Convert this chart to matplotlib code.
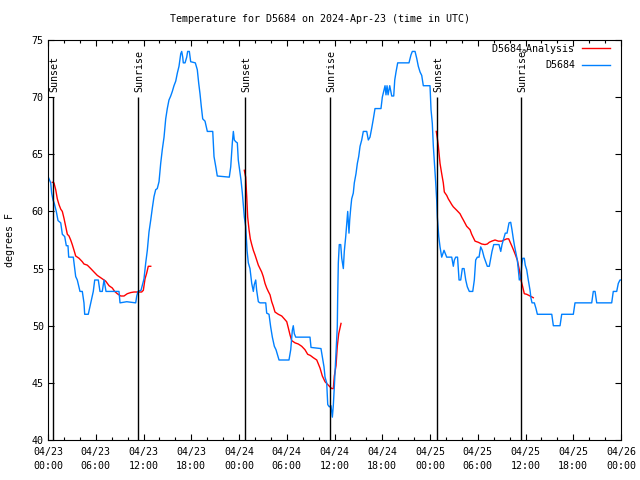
import numpy as np
import matplotlib
matplotlib.use("Agg")
import matplotlib.pyplot as plt
from matplotlib.ticker import MultipleLocator

# hours since 2024-04-23 00:00 UTC
obs_hours = [0.04, 0.34, 0.46, 0.63, 0.79, 1.04, 1.26, 1.60, 1.80, 2.10, 2.30, 2.51, 2.60, 3.18,
             3.48, 3.68, 4.02, 4.31, 4.52, 4.61, 5.06, 5.37, 5.69, 5.87, 6.32, 6.53, 6.82, 7.04,
             7.29, 8.92, 9.05, 9.89, 11.02, 11.15, 11.31, 11.69, 12.06, 12.28, 12.48, 12.69,
             12.91, 13.11, 13.32, 13.53, 13.73, 13.95, 14.16, 14.36, 14.58, 14.79, 14.99, 15.20,
             15.42, 15.62, 15.83, 16.05, 16.25, 16.46, 16.68, 16.80, 16.93, 17.00, 17.22, 17.43,
             17.55, 17.76, 17.93, 18.51, 18.76, 18.94, 19.10, 19.26, 19.44, 19.73, 20.02, 20.70,
             20.86, 21.11, 21.27, 22.78, 22.96, 23.16, 23.29, 23.41, 23.59, 23.79, 23.91, 24.09,
             24.25, 24.42, 24.54, 24.67, 24.84, 25.01, 25.17, 25.38, 25.60, 25.80, 25.92, 26.10,
             26.22, 26.43, 26.64, 27.36, 27.48, 27.77, 27.98, 28.19, 28.44, 28.65, 28.86, 29.03,
             30.28, 30.50, 30.70, 30.82, 30.95, 31.13, 32.92, 33.05, 34.30, 34.47, 34.68, 34.81,
             35.02, 35.15, 35.35, 35.56, 35.73, 35.85, 35.98, 36.28, 36.35, 36.40, 36.48, 36.60,
             36.78, 36.91, 37.11, 37.23, 37.41, 37.57, 37.66, 37.82, 37.91, 38.04, 38.16, 38.36,
             38.49, 38.70, 38.87, 39.04, 39.21, 39.42, 39.62, 40.05, 40.25, 40.46, 40.68, 40.88,
             41.09, 41.84, 42.01, 42.22, 42.35, 42.47, 42.60, 42.73, 42.94, 43.19, 43.44, 43.57,
             43.73, 43.94, 45.36, 45.61, 45.78, 46.12, 46.33, 46.53, 46.75, 46.96, 47.16, 48.00,
             48.13, 48.29, 48.42, 48.59, 48.71, 48.84, 48.92, 49.10, 49.26, 49.47, 49.76, 50.10,
             50.73, 50.93, 51.06, 51.23, 51.46, 51.65, 51.86, 52.06, 52.28, 52.49, 52.69, 52.94,
             53.37, 53.57, 53.74, 53.95, 54.16, 54.37, 54.57, 54.79, 55.00, 55.20, 55.45, 55.63,
             55.79, 56.01, 56.67, 56.89, 57.05, 57.26, 57.46, 57.68, 57.93, 58.14, 58.30, 58.47,
             58.64, 58.81, 58.97, 59.10, 59.22, 59.40, 59.53, 59.65, 59.85, 59.97, 60.15, 60.35,
             60.57, 60.69, 60.82, 61.11, 61.32, 61.49, 63.30, 63.50, 64.34, 64.55, 66.01, 66.22,
             68.32, 68.52, 68.74, 68.95, 70.83, 71.03, 71.46, 71.66, 71.87, 72.0]
obs_temp = [63, 62.5, 61.6, 61, 60.7, 60, 59.2, 59, 58, 57.8, 57, 57, 56, 56,
            54.3, 54, 53, 53, 52, 51, 51, 52, 53, 54, 54, 53, 53, 54,
            53, 53, 52, 52.1, 52, 52.6, 53, 53.1, 54.1, 55.5, 56.6, 58.2,
            59.25, 60.3, 61.3, 61.9, 62, 62.6, 64.2, 65.4, 66.5, 68.1, 69, 69.75,
            70.1, 70.5, 71, 71.4, 72.1, 72.7, 73.8, 74, 73.5, 73, 73, 73.5,
            74, 74, 73.1, 73, 72.4, 71.2, 70.3, 69.2, 68.1, 67.9, 67, 67,
            64.8, 63.8, 63.1, 63, 63.9, 66, 67, 66.25, 66.1, 66, 64.5, 63.6,
            62.75, 61.6, 60.6, 59.5, 58.7, 56.6, 55.5, 55, 53.7, 53, 53.6, 54,
            53.1, 52.1, 52, 52, 51.1, 51, 49.9, 49, 48.2, 47.9, 47.4, 47,
            47, 47.9, 49.6, 50, 49.3, 49, 49, 48.1, 48, 47.3, 46.4, 45.5,
            45, 43.1, 42.9, 43, 42, 43, 44.7, 48.9, 49.9, 52.5, 55.5, 57.1,
            57.1, 55.9, 55, 56.5, 57.8, 59.25, 60, 58.1, 59.25, 60.3, 61.1, 61.6,
            62.5, 63.3, 64.2, 64.8, 65.7, 66.25, 67, 67, 66.25, 66.5, 67.3, 68.1,
            69, 69, 70, 70.6, 71, 70.2, 71, 70.2, 71, 70.1, 70.1, 71.5,
            72.2, 73, 73, 73.7, 74, 74, 73.4, 72.7, 72.2, 71.9, 71, 71,
            68.9, 67.7, 65.7, 63.9, 62.6, 61, 59.5, 57.8, 56.9, 56, 56.6, 56,
            56, 55.2, 55.75, 56, 56, 54, 54, 55, 55, 54, 53.4, 53,
            53, 54, 55.75, 56, 56, 56.9, 56.6, 56, 55.6, 55.2, 55.2, 55.9,
            56.5, 57.1, 57.1, 56.5, 57.1, 57.6, 58.1, 58.1, 59, 59.05, 58.4, 57.6,
            56.9, 56.3, 55.75, 54.9, 54, 54.2, 55.3, 55.9, 55.9, 55.3, 54.9, 54,
            53.1, 52.4, 52, 52, 51.5, 51, 51, 50, 50, 51, 51, 52,
            52, 53, 53, 52, 52, 53, 53, 53.7, 54, 54]

# analysis series: three night-time pieces
ana1_hours = [0.54, 0.75, 0.97, 1.17, 1.38, 1.60, 1.80, 2.01, 2.22, 2.43, 2.64, 2.85, 3.05, 3.27,
              3.48, 3.90, 4.31, 4.52, 4.94, 5.37, 5.78, 6.20, 6.62, 7.04, 7.25, 7.67, 8.08, 8.38,
              8.71, 9.14, 9.55, 9.96, 10.39, 10.81, 11.22, 11.77, 11.98, 12.19, 12.40, 12.60, 12.91]
ana1_temp = [62.55, 62.5, 61.9, 61.1, 60.6, 60.2, 60, 59.4, 58.7, 58, 57.85, 57.5, 57.1, 56.6,
             56.1, 55.9, 55.6, 55.4, 55.3, 55, 54.7, 54.4, 54.2, 54, 53.9, 53.5, 53.3, 53,
             52.8, 52.6, 52.6, 52.8, 52.9, 52.95, 52.95, 52.95, 53.1, 54.1, 54.6, 55.2, 55.2]
ana2_hours = [24.67, 24.84, 24.97, 25.09, 25.26, 25.42, 25.60, 25.80, 26.01, 26.22, 26.43, 26.64,
              26.85, 27.05, 27.27, 27.48, 27.68, 27.90, 28.11, 28.31, 28.52, 28.94, 29.37, 29.69,
              30.00, 30.20, 30.41, 30.62, 31.04, 31.45, 31.88, 32.29, 32.63, 32.96, 33.34, 33.77,
              34.18, 34.47, 34.81, 35.22, 35.65, 35.85, 35.98, 36.19, 36.35, 36.53, 36.82]
ana2_temp = [63.6, 63, 61.3, 59.5, 58.4, 57.6, 57.1, 56.6, 56.2, 55.75, 55.3, 55,
             54.7, 54.3, 53.7, 53.3, 53, 52.7, 52.1, 51.7, 51.2, 51, 50.85, 50.6,
             50.35, 49.8, 49.2, 48.7, 48.5, 48.4, 48.2, 47.9, 47.5, 47.4, 47.2, 47,
             46.3, 45.6, 45.1, 44.8, 44.5, 44.5, 45.6, 46.5, 48.2, 49.3, 50.2]
ana3_hours = [48.79, 48.92, 49.05, 49.26, 49.47, 49.67, 49.80, 50.10, 50.30, 50.52, 50.73, 50.93,
              51.36, 51.77, 51.99, 52.19, 52.61, 53.03, 53.24, 53.66, 54.07, 54.50, 54.91, 55.20,
              55.45, 55.76, 56.17, 56.59, 57.01, 57.30, 57.64, 57.89, 58.14, 58.39, 58.68, 58.97,
              59.22, 59.43, 59.65, 59.85, 60.15, 60.57, 60.98]
ana3_temp = [67, 66.4, 65.7, 64.2, 63.3, 62.5, 61.7, 61.4, 61.1, 60.85, 60.6, 60.4,
             60.1, 59.8, 59.5, 59.25, 58.7, 58.4, 58, 57.4, 57.3, 57.15, 57.1, 57.15,
             57.3, 57.4, 57.5, 57.4, 57.4, 57.5, 57.6, 57.6, 57.2, 56.8, 56.3, 55.75,
             54.9, 54, 53.4, 52.8, 52.75, 52.6, 52.45]

sun_hours = [0.67, 11.35, 24.8, 35.47, 48.9, 59.47]
sun_labels = ["Sunset", "Sunrise", "Sunset", "Sunrise", "Sunset", "Sunrise"]

tick_hours = list(range(0, 73, 6))
tick_labels = ["04/23\n00:00", "04/23\n06:00", "04/23\n12:00", "04/23\n18:00",
               "04/24\n00:00", "04/24\n06:00", "04/24\n12:00", "04/24\n18:00",
               "04/25\n00:00", "04/25\n06:00", "04/25\n12:00", "04/25\n18:00",
               "04/26\n00:00"]

plt.rcParams["font.family"] = "DejaVu Sans Mono"
plt.rcParams["font.size"] = 7.2

fig = plt.figure(figsize=(6.4, 4.8), dpi=100)
ax = fig.add_axes([48 / 640, 40 / 480, 573 / 640, 400 / 480])

red = "#ff0000"
blue = "#0080ff"

ax.plot(ana1_hours, ana1_temp, color=red, lw=1, label="D5684$_\\mathrm{a}$Analysis")
ax.plot(ana2_hours, ana2_temp, color=red, lw=1)
ax.plot(ana3_hours, ana3_temp, color=red, lw=1)
ax.plot(obs_hours, obs_temp, color=blue, lw=1, label="D5684")

for h, lab in zip(sun_hours, sun_labels):
    ax.vlines(h, 40, 70.0, color="black", lw=1)
    ax.text(h + 0.15, 70.45, lab, rotation=90, ha="center", va="bottom")

ax.set_xlim(0, 72)
ax.set_ylim(40, 75)
ax.set_xticks(tick_hours)
ax.set_xticklabels(tick_labels, linespacing=1.45)
ax.xaxis.set_minor_locator(MultipleLocator(2))
ax.yaxis.set_major_locator(MultipleLocator(5))
ax.tick_params(which="both", direction="in", top=True, right=True, width=0.8)
ax.tick_params(which="major", length=4)
ax.tick_params(which="minor", length=2.2)
ax.tick_params(axis="x", pad=5)
ax.tick_params(axis="y", pad=3)
for s in ax.spines.values():
    s.set_linewidth(0.8)

ax.set_ylabel("degrees F", labelpad=12)
fig.text(0.5, 1 - 19 / 480, "Temperature for D5684 on 2024-Apr-23 (time in UTC)",
         ha="center", va="center")

leg = ax.legend(loc="upper right", bbox_to_anchor=(1 - 9 / 573, 1), markerfirst=False,
                frameon=False, handlelength=2.8, handletextpad=0.7, labelspacing=0.45,
                borderaxespad=0, borderpad=0.2)

fig.savefig("out.png", dpi=100)
